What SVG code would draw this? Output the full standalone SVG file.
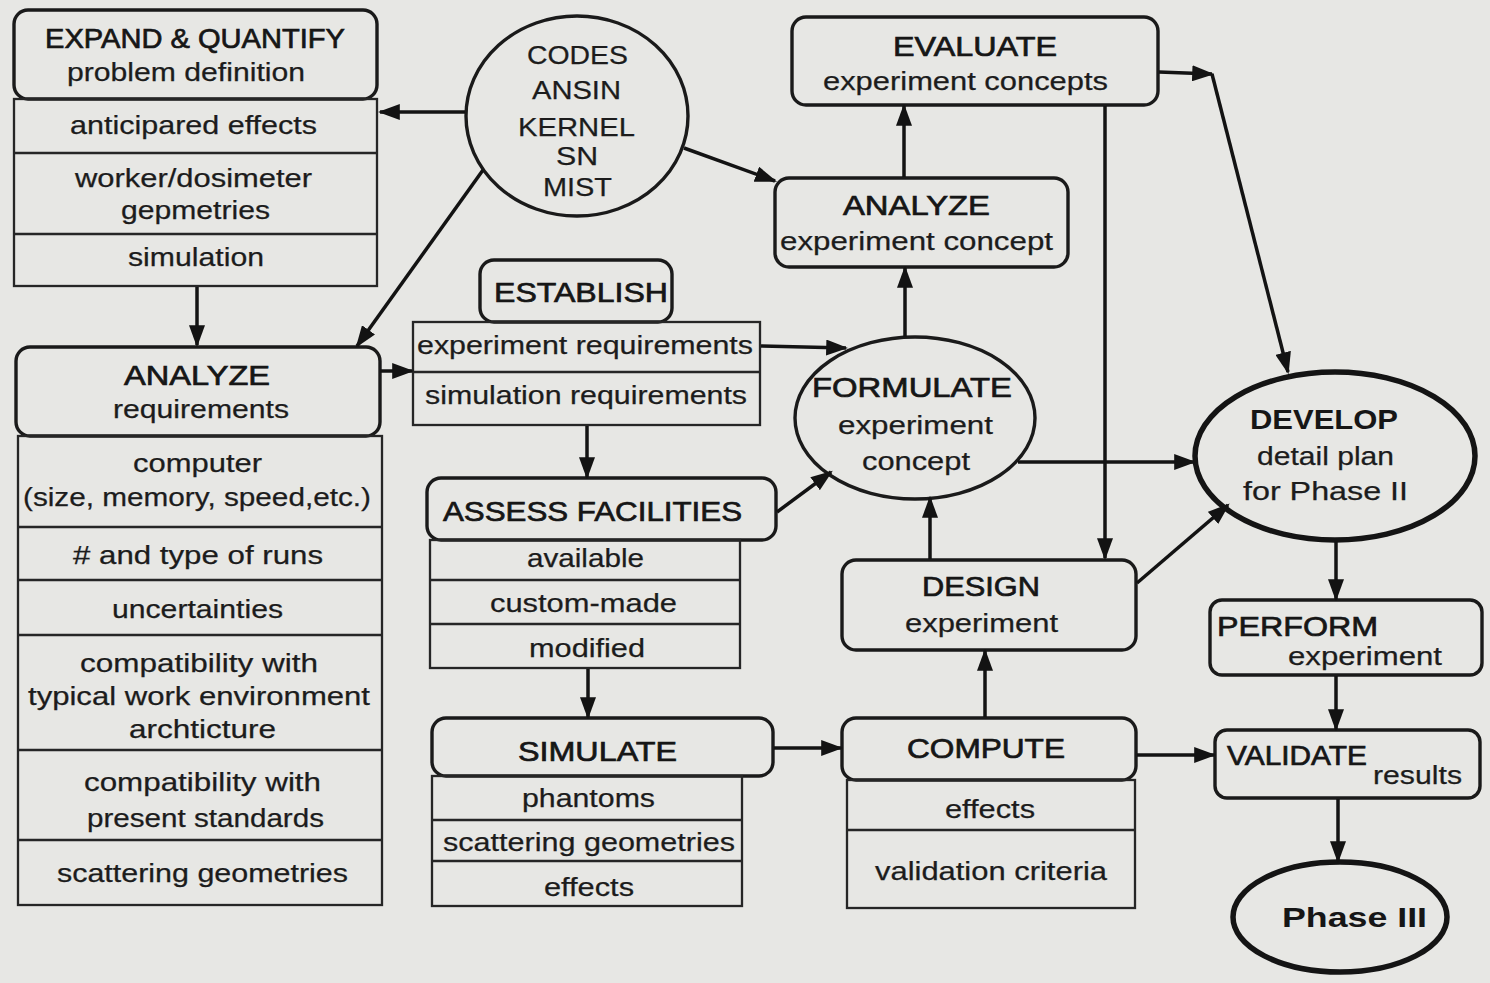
<svg xmlns="http://www.w3.org/2000/svg" width="1490" height="983" viewBox="0 0 1490 983">
<style>
.bg{fill:#e7e7e4}
.hdr{fill:none;stroke:#1a1a1a;stroke-width:3.4}
.tbl{fill:none;stroke:#262626;stroke-width:2.3}
.thick{fill:none;stroke:#141414;stroke-width:5.5}
.t{font-family:"Liberation Sans",Arial,sans-serif;font-size:26px;fill:#1c1c1c;stroke:#1c1c1c;stroke-width:0.25}
.h{font-family:"Liberation Sans",Arial,sans-serif;font-size:28px;fill:#161616;stroke:#161616;stroke-width:0.7}
.b{font-family:"Liberation Sans",Arial,sans-serif;font-size:28px;fill:#161616;font-weight:bold}
.c{fill:none;stroke:#131313;stroke-width:3.5;marker-end:url(#ah)}
</style>
<defs>
<marker id="ah" viewBox="0 0 10 10" refX="9" refY="5" markerWidth="22" markerHeight="16" markerUnits="userSpaceOnUse" orient="auto" preserveAspectRatio="none">
<path d="M0,0 L10,5 L0,10 z" fill="#131313"/>
</marker>
</defs>
<rect class="bg" x="0" y="0" width="1490" height="983"/>

<g id="expand">
<rect class="hdr" x="14" y="10" width="363" height="89" rx="14"/>
<rect class="tbl" x="14" y="99" width="363" height="187"/>
<line class="tbl" x1="14" y1="153" x2="377" y2="153"/>
<line class="tbl" x1="14" y1="234" x2="377" y2="234"/>
<text class="h" x="45" y="48" textLength="300" lengthAdjust="spacingAndGlyphs">EXPAND &amp; QUANTIFY</text>
<text class="t" x="67" y="81" textLength="238" lengthAdjust="spacingAndGlyphs">problem definition</text>
<text class="t" x="70" y="134" textLength="247" lengthAdjust="spacingAndGlyphs">anticipared effects</text>
<text class="t" x="75" y="187" textLength="237" lengthAdjust="spacingAndGlyphs">worker/dosimeter</text>
<text class="t" x="121" y="219" textLength="149" lengthAdjust="spacingAndGlyphs">gepmetries</text>
<text class="t" x="128" y="266" textLength="136" lengthAdjust="spacingAndGlyphs">simulation</text>
</g>

<g id="codes">
<ellipse class="hdr" cx="577" cy="116" rx="111" ry="100"/>
<text class="t" x="527" y="64" textLength="101" lengthAdjust="spacingAndGlyphs">CODES</text>
<text class="t" x="532" y="99" textLength="89" lengthAdjust="spacingAndGlyphs">ANSIN</text>
<text class="t" x="518" y="136" textLength="117" lengthAdjust="spacingAndGlyphs">KERNEL</text>
<text class="t" x="556" y="165" textLength="42" lengthAdjust="spacingAndGlyphs">SN</text>
<text class="t" x="543" y="196" textLength="69" lengthAdjust="spacingAndGlyphs">MIST</text>
</g>

<g id="evaluate">
<rect class="hdr" x="792" y="17" width="366" height="88" rx="14"/>
<text class="h" x="893" y="56" textLength="164" lengthAdjust="spacingAndGlyphs">EVALUATE</text>
<text class="t" x="823" y="90" textLength="285" lengthAdjust="spacingAndGlyphs">experiment concepts</text>
</g>

<g id="analyze-concept">
<rect class="hdr" x="775" y="178" width="293" height="89" rx="14"/>
<text class="h" x="843" y="215" textLength="147" lengthAdjust="spacingAndGlyphs">ANALYZE</text>
<text class="t" x="780" y="250" textLength="273" lengthAdjust="spacingAndGlyphs">experiment concept</text>
</g>

<g id="establish">
<rect class="hdr" x="480" y="260" width="192" height="62" rx="14"/>
<rect class="tbl" x="413" y="322" width="347" height="103"/>
<line class="tbl" x1="413" y1="372" x2="760" y2="372"/>
<text class="h" x="494" y="302" textLength="174" lengthAdjust="spacingAndGlyphs">ESTABLISH</text>
<text class="t" x="417" y="354" textLength="336" lengthAdjust="spacingAndGlyphs">experiment requirements</text>
<text class="t" x="425" y="404" textLength="322" lengthAdjust="spacingAndGlyphs">simulation requirements</text>
</g>

<g id="analyze-req">
<rect class="hdr" x="16" y="347" width="364" height="89" rx="14"/>
<rect class="tbl" x="18" y="436" width="364" height="469"/>
<line class="tbl" x1="18" y1="527" x2="382" y2="527"/>
<line class="tbl" x1="18" y1="580" x2="382" y2="580"/>
<line class="tbl" x1="18" y1="635" x2="382" y2="635"/>
<line class="tbl" x1="18" y1="750" x2="382" y2="750"/>
<line class="tbl" x1="18" y1="840" x2="382" y2="840"/>
<text class="h" x="124" y="385" textLength="146" lengthAdjust="spacingAndGlyphs">ANALYZE</text>
<text class="t" x="113" y="418" textLength="176" lengthAdjust="spacingAndGlyphs">requirements</text>
<text class="t" x="133" y="472" textLength="129" lengthAdjust="spacingAndGlyphs">computer</text>
<text class="t" x="23" y="506" textLength="348" lengthAdjust="spacingAndGlyphs">(size, memory, speed,etc.)</text>
<text class="t" x="73" y="564" textLength="250" lengthAdjust="spacingAndGlyphs"># and type of runs</text>
<text class="t" x="112" y="618" textLength="171" lengthAdjust="spacingAndGlyphs">uncertainties</text>
<text class="t" x="80" y="672" textLength="238" lengthAdjust="spacingAndGlyphs">compatibility with</text>
<text class="t" x="28" y="705" textLength="342" lengthAdjust="spacingAndGlyphs">typical work environment</text>
<text class="t" x="129" y="738" textLength="147" lengthAdjust="spacingAndGlyphs">archticture</text>
<text class="t" x="84" y="791" textLength="237" lengthAdjust="spacingAndGlyphs">compatibility with</text>
<text class="t" x="87" y="827" textLength="237" lengthAdjust="spacingAndGlyphs">present standards</text>
<text class="t" x="57" y="882" textLength="291" lengthAdjust="spacingAndGlyphs">scattering geometries</text>
</g>

<g id="formulate">
<ellipse class="hdr" cx="915" cy="418" rx="120" ry="81"/>
<text class="h" x="812" y="397" textLength="200" lengthAdjust="spacingAndGlyphs">FORMULATE</text>
<text class="t" x="838" y="434" textLength="155" lengthAdjust="spacingAndGlyphs">experiment</text>
<text class="t" x="862" y="470" textLength="108" lengthAdjust="spacingAndGlyphs">concept</text>
</g>

<g id="assess">
<rect class="hdr" x="427" y="478" width="349" height="62" rx="14"/>
<rect class="tbl" x="430" y="540" width="310" height="128"/>
<line class="tbl" x1="430" y1="580" x2="740" y2="580"/>
<line class="tbl" x1="430" y1="624" x2="740" y2="624"/>
<text class="h" x="443" y="521" textLength="299" lengthAdjust="spacingAndGlyphs">ASSESS FACILITIES</text>
<text class="t" x="527" y="567" textLength="117" lengthAdjust="spacingAndGlyphs">available</text>
<text class="t" x="490" y="612" textLength="187" lengthAdjust="spacingAndGlyphs">custom-made</text>
<text class="t" x="529" y="657" textLength="116" lengthAdjust="spacingAndGlyphs">modified</text>
</g>

<g id="simulate">
<rect class="hdr" x="432" y="718" width="341" height="58" rx="14"/>
<rect class="tbl" x="432" y="776" width="310" height="130"/>
<line class="tbl" x1="432" y1="820" x2="742" y2="820"/>
<line class="tbl" x1="432" y1="861" x2="742" y2="861"/>
<text class="h" x="518" y="761" textLength="159" lengthAdjust="spacingAndGlyphs">SIMULATE</text>
<text class="t" x="522" y="807" textLength="133" lengthAdjust="spacingAndGlyphs">phantoms</text>
<text class="t" x="443" y="851" textLength="292" lengthAdjust="spacingAndGlyphs">scattering geometries</text>
<text class="t" x="544" y="896" textLength="90" lengthAdjust="spacingAndGlyphs">effects</text>
</g>

<g id="compute">
<rect class="hdr" x="842" y="718" width="294" height="62" rx="14"/>
<rect class="tbl" x="847" y="780" width="288" height="128"/>
<line class="tbl" x1="847" y1="830" x2="1135" y2="830"/>
<text class="h" x="907" y="758" textLength="158" lengthAdjust="spacingAndGlyphs">COMPUTE</text>
<text class="t" x="945" y="818" textLength="90" lengthAdjust="spacingAndGlyphs">effects</text>
<text class="t" x="875" y="880" textLength="232" lengthAdjust="spacingAndGlyphs">validation criteria</text>
</g>

<g id="design">
<rect class="hdr" x="842" y="560" width="294" height="90" rx="14"/>
<text class="h" x="922" y="596" textLength="118" lengthAdjust="spacingAndGlyphs">DESIGN</text>
<text class="t" x="905" y="632" textLength="153" lengthAdjust="spacingAndGlyphs">experiment</text>
</g>

<g id="develop">
<ellipse class="thick" cx="1335" cy="456" rx="140" ry="84"/>
<text class="b" x="1250" y="429" textLength="148" lengthAdjust="spacingAndGlyphs">DEVELOP</text>
<text class="t" x="1257" y="465" textLength="137" lengthAdjust="spacingAndGlyphs">detail plan</text>
<text class="t" x="1243" y="500" textLength="165" lengthAdjust="spacingAndGlyphs">for Phase II</text>
</g>

<g id="perform">
<rect class="hdr" x="1210" y="600" width="272" height="75" rx="12"/>
<text class="h" x="1217" y="636" textLength="161" lengthAdjust="spacingAndGlyphs">PERFORM</text>
<text class="t" x="1288" y="665" textLength="154" lengthAdjust="spacingAndGlyphs">experiment</text>
</g>

<g id="validate">
<rect class="hdr" x="1215" y="730" width="265" height="68" rx="12"/>
<text class="h" x="1227" y="765" textLength="140" lengthAdjust="spacingAndGlyphs">VALIDATE</text>
<text class="t" x="1373" y="784" textLength="89" lengthAdjust="spacingAndGlyphs">results</text>
</g>

<g id="phase3">
<ellipse class="thick" cx="1340" cy="917" rx="107" ry="55"/>
<text class="b" x="1282" y="927" textLength="145" lengthAdjust="spacingAndGlyphs">Phase III</text>
</g>

<g id="connectors">
<path class="c" d="M465,112 L380,112"/>
<path class="c" d="M483,170 L357,346"/>
<path class="c" d="M684,148 L775,181"/>
<path class="c" d="M197,287 L197,345"/>
<path class="c" d="M380,371 L412,371"/>
<path class="c" d="M761,346 L846,348"/>
<path class="c" d="M587,426 L587,477"/>
<path class="c" d="M777,512 L831,472"/>
<path class="c" d="M588,669 L588,717"/>
<path class="c" d="M774,748 L841,748"/>
<path class="c" d="M985,717 L985,651"/>
<path class="c" d="M930,559 L930,498"/>
<path class="c" d="M905,337 L905,268"/>
<path class="c" d="M904,177 L904,106"/>
<path class="c" d="M1159,72 L1212,74"/>
<path class="c" d="M1212,74 L1288,372"/>
<path class="c" d="M1105,106 L1105,558"/>
<path class="c" d="M1018,462 L1194,462"/>
<path class="c" d="M1137,583 L1228,505"/>
<path class="c" d="M1336,541 L1336,599"/>
<path class="c" d="M1336,676 L1336,729"/>
<path class="c" d="M1137,755 L1214,755"/>
<path class="c" d="M1338,799 L1338,861"/>
</g>
</svg>
